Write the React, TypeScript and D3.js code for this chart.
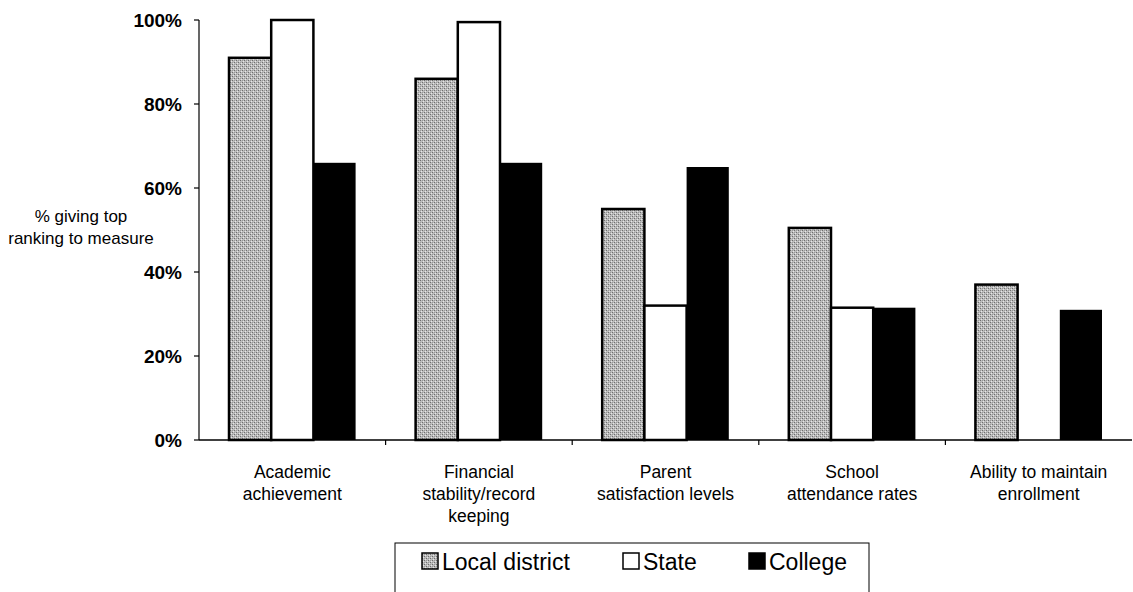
import React from "react";
import * as d3 from "d3";

const categories: string[][] = [
  ["Academic", "achievement"],
  ["Financial", "stability/record", "keeping"],
  ["Parent", "satisfaction levels"],
  ["School", "attendance rates"],
  ["Ability to maintain", "enrollment"],
];
const seriesNames = ["Local district", "State", "College"];
const localDistrict = [91, 86, 55, 50.5, 37];
const state = [100, 99.5, 32, 31.5, 0];
const college = [66, 66, 65, 31.5, 31];
const yTicks = [0, 20, 40, 60, 80, 100];

const W = 1133;
const H = 592;
const left = 199;
const right = 1132;
const top = 20;
const bottom = 440;
const font = "'Liberation Sans', Arial, sans-serif";

export default function App() {
  const x = d3
    .scaleBand<number>()
    .domain(d3.range(categories.length))
    .range([left, right])
    .paddingInner(0)
    .paddingOuter(0);
  const inner = d3
    .scaleBand<number>()
    .domain([0, 1, 2])
    .range([30, x.bandwidth() - 30]);
  const y = d3.scaleLinear().domain([0, 100]).range([bottom, top]);
  const series = [localDistrict, state, college];
  const fills = ["url(#grain)", "#ffffff", "#000000"];

  return (
    <svg
      width={W}
      height={H}
      style={{ position: "absolute", left: 0, top: 0, background: "#fff" }}
      fontFamily={font}
    >
      <defs>
        <pattern id="grain" width="4" height="4" patternUnits="userSpaceOnUse">
          <rect width="4" height="4" fill="#bdbdbd" />
          <rect x="0" y="0" width="1" height="1" fill="#6e6e6e" />
          <rect x="2" y="2" width="1" height="1" fill="#6e6e6e" />
          <rect x="2" y="0" width="1" height="1" fill="#999999" />
          <rect x="0" y="2" width="1" height="1" fill="#999999" />
          <rect x="1" y="3" width="1" height="1" fill="#e6e6e6" />
          <rect x="3" y="1" width="1" height="1" fill="#e6e6e6" />
        </pattern>
      </defs>

      {/* bars */}
      {categories.map((_, ci) =>
        series.map((vals, si) => {
          const v = vals[ci];
          if (v <= 0) return null;
          const bx = (x(ci) as number) + (inner(si) as number);
          const by = y(v);
          return (
            <rect
              key={`${ci}-${si}`}
              x={bx}
              y={by}
              width={inner.bandwidth()}
              height={bottom - by}
              fill={fills[si]}
              stroke="#000"
              strokeWidth={si === 2 ? 0 : 2.5}
            />
          );
        })
      )}

      {/* axes */}
      <line x1={left} x2={left} y1={top} y2={bottom} stroke="#000" strokeWidth={1.2} />
      <line x1={left} x2={right} y1={bottom} y2={bottom} stroke="#000" strokeWidth={1.5} />
      {yTicks.map((t) => (
        <g key={t}>
          <line x1={left - 5} x2={left} y1={y(t)} y2={y(t)} stroke="#000" strokeWidth={1.2} />
          <text
            x={left - 17}
            y={y(t)}
            dy="0.35em"
            textAnchor="end"
            fontSize={19}
            fontWeight="bold"
          >
            {t}%
          </text>
        </g>
      ))}
      {d3.range(1, categories.length).map((i) => (
        <line
          key={i}
          x1={x(i) as number}
          x2={x(i) as number}
          y1={bottom}
          y2={bottom + 5}
          stroke="#000"
          strokeWidth={1.2}
        />
      ))}

      {/* y axis title */}
      <text x={81} y={222} textAnchor="middle" fontSize={17}>
        <tspan x={81}>% giving top</tspan>
        <tspan x={81} dy={22}>ranking to measure</tspan>
      </text>

      {/* category labels */}
      {categories.map((lines, ci) => (
        <text
          key={ci}
          x={(x(ci) as number) + x.bandwidth() / 2}
          y={478}
          textAnchor="middle"
          fontSize={17.5}
        >
          {lines.map((l, li) => (
            <tspan key={li} x={(x(ci) as number) + x.bandwidth() / 2} dy={li === 0 ? 0 : 22}>
              {l}
            </tspan>
          ))}
        </text>
      ))}

      {/* legend */}
      <rect x={395} y={543} width={474} height={50} fill="#fff" stroke="#000" strokeWidth={1} />
      {seriesNames.map((name, i) => {
        const lx = [422, 623, 749][i];
        return (
          <g key={name}>
            <rect
              x={lx}
              y={553}
              width={16}
              height={16}
              fill={fills[i]}
              stroke="#000"
              strokeWidth={1.5}
            />
            <text x={lx + 20} y={570} fontSize={23}>
              {name}
            </text>
          </g>
        );
      })}
    </svg>
  );
}
